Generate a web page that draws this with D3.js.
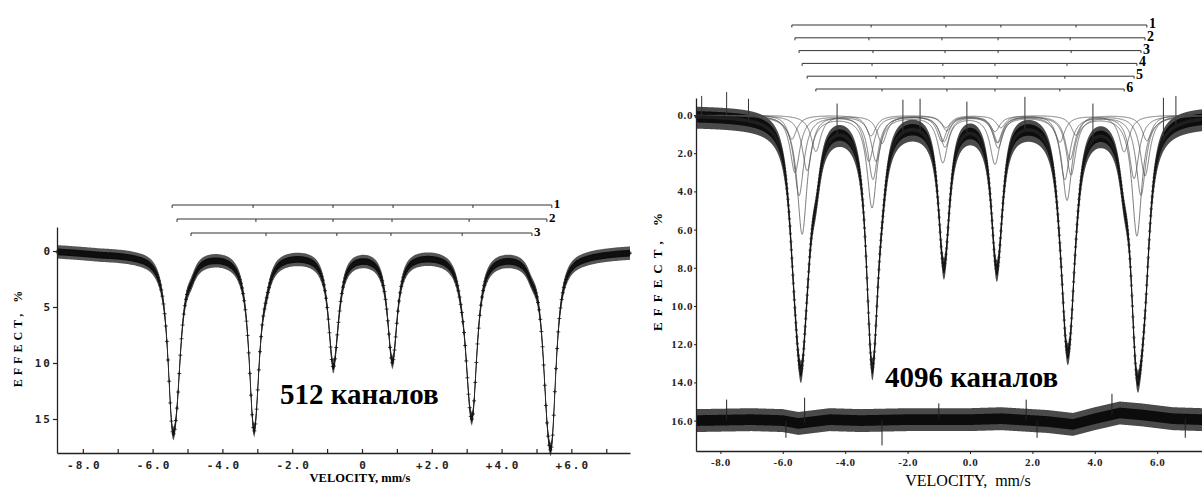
<!DOCTYPE html>
<html>
<head>
<meta charset="utf-8">
<script src="https://cdn.jsdelivr.net/npm/d3@7"></script>
<style>
  body { margin: 0; background: #fff; }
  svg { display: block; }
</style>
</head>
<body>
<svg width="1202" height="491"></svg>
<script>

// ---- left spectrum (512 channels), three sextets = stick diagrams 1..3
var leftSticks = [
    [-5.44, -3.12, -0.83, 0.89, 3.18, 5.44],
    [-5.30, -3.04, -0.83, 0.86, 3.07, 5.30],
    [-4.90, -2.75, -0.72, 0.83, 2.87, 4.87]
];
var leftDepths = [
    [11.7, 10.2, 5.5, 5.0, 10.0, 12.6],
    [7.0, 6.3, 3.5, 3.4, 6.0, 7.8],
    [0.8, 1.1, 1.5, 1.4, 1.0, 0.8]
];
var leftWidth = 0.16;          // half width, mm/s
var leftNoise = [0.3, 0.6];    // dense core / spikes, %
var leftBaseline = [[-8.74, 0.0], [-7.5, 0.22], [-6.4, 0.25], [-5.5, 0.1], [5.5, 0.1], [6.4, 0.2], [7.68, 0.05]];
var leftChannels = 512;
var leftXTicks = [-8, -7, -6, -5, -4, -3, -2, -1, 0, 1, 2, 3, 4, 5, 6, 7];
var leftYTicks = [0, 5, 10, 15];
var leftStickLabels = ["1", "2", "3"];

// ---- right spectrum (4096 channels), six sextets = stick diagrams 1..6
var rightSticks = [
    [-5.71, -3.17, -0.77, 0.99, 3.40, 5.67],
    [-5.61, -3.24, -0.90, 0.90, 3.21, 5.61],
    [-5.48, -3.11, -0.80, 0.90, 3.24, 5.48],
    [-5.38, -3.14, -0.87, 0.80, 3.11, 5.35],
    [-5.22, -3.01, -0.83, 0.87, 3.04, 5.26],
    [-4.94, -2.82, -0.74, 0.80, 2.88, 4.94]
];
var rightDepths = [
    [1.26, 1.08, 0.65, 0.65, 1.05, 1.34],
    [3.0, 2.4, 1.35, 1.4, 2.3, 3.17],
    [4.2, 3.33, 1.63, 1.67, 3.1, 4.18],
    [6.2, 4.8, 2.42, 2.5, 4.4, 6.3],
    [2.9, 2.4, 1.35, 1.4, 3.35, 3.3],
    [1.9, 1.47, 0.8, 0.84, 1.4, 1.92]
];
var rightWidth = 0.19;
var rightNoise = [0.3, 0.62];
var rightChannels = 4096;
var rightSpikes = [[-8.6, -1.0], [-7.8, -1.2], [-7.1, -0.85], [-4.26, -0.6], [-2.15, -0.8],
                   [-1.6, -0.85], [-0.1, -0.7], [1.76, -0.95], [3.94, -0.6], [6.2, -0.9], [6.6, -1.0]];
// residual (difference) curve drawn at 16 %
var rightResidual = [[-8.78, 16.0], [-7.0, 15.95], [-6.0, 16.0], [-5.5, 16.15], [-4.5, 15.95],
                     [-3.5, 16.0], [-2.0, 15.95], [0.0, 15.95], [1.0, 15.9], [2.5, 16.05],
                     [3.3, 16.2], [4.0, 15.9], [4.8, 15.6], [5.5, 15.7], [6.5, 15.9], [7.44, 15.95]];
var residualNoise = [0.28, 0.6];
var residualSpikes = [[-7.8, 14.9], [-5.9, 16.9], [-5.3, 14.8], [-2.82, 17.3], [-1.0, 15.1],
                      [1.8, 14.9], [2.15, 16.9], [4.55, 14.6], [6.9, 16.9]];
var rightXTicks = [-8, -6, -4, -2, 0, 2, 4, 6];
var rightYTicks = [0, 2, 4, 6, 8, 10, 12, 14, 16];
var rightStickLabels = ["1", "2", "3", "4", "5", "6"];

var serif = "'Liberation Serif', 'Times New Roman', serif";
var mono = "'DejaVu Sans Mono', monospace";

var svg = d3.select("svg");

// lorentzian line of one sextet
function lineShape(v, pos, depth, g) {
    var d = (v - pos) / g;
    return depth / (1 + d * d);
}
function sextet(v, sticks, depths, g, k) {
    var s = 0;
    for (var j = 0; j < 6; j++) s += lineShape(v, sticks[k][j], depths[k][j], g);
    return s;
}
function total(v, sticks, depths, g) {
    var s = 0;
    for (var k = 0; k < sticks.length; k++) s += sextet(v, sticks, depths, g, k);
    return s;
}

// ================= left panel =================
var x1 = d3.scaleLinear().domain([-8.74, 7.68]).range([57, 630]);
var y1 = d3.scaleLinear().domain([-2.143, 18.036]).range([227, 453]);
var base1 = d3.scaleLinear().domain(leftBaseline.map(d => d[0])).range(leftBaseline.map(d => d[1]));

var ch1 = d3.range(leftChannels).map(function (i) {
    var v = x1.domain()[0] + i * (x1.domain()[1] - x1.domain()[0]) / (leftChannels - 1);
    return { v: v, e: total(v, leftSticks, leftDepths, leftWidth) + base1(v) };
});

var g1 = svg.append("g");

g1.append("path")
    .datum(ch1)
    .attr("fill", "#555")
    .attr("d", d3.area().x(d => x1(d.v)).y0(d => y1(d.e - leftNoise[1])).y1(d => y1(d.e + leftNoise[1])));
g1.append("path")
    .datum(ch1)
    .attr("fill", "#0d0d0d")
    .attr("d", d3.area().x(d => x1(d.v)).y0(d => y1(d.e - leftNoise[0])).y1(d => y1(d.e + leftNoise[0])));
g1.append("path")
    .datum(ch1)
    .attr("fill", "none")
    .attr("stroke", "#222")
    .attr("stroke-width", 0.9)
    .attr("d", d3.line().x(d => x1(d.v)).y(d => y1(d.e)));
// "+" markers at every channel
g1.append("path")
    .attr("fill", "none")
    .attr("stroke", "#111")
    .attr("stroke-width", 0.8)
    .attr("d", ch1.map(function (d) {
        var px = x1(d.v), py = y1(d.e);
        return "M" + (px - 2) + "," + py + "h4M" + px + "," + (py - 2) + "v4";
    }).join(""));

// axes
var ax1 = g1.append("g")
    .attr("transform", "translate(0," + y1.range()[1] + ")")
    .call(d3.axisBottom(x1).tickValues(leftXTicks).tickSize(-4).tickSizeOuter(0)
        .tickFormat(function (v) {
            if (v % 2 !== 0) return "";
            return v === 0 ? "0" : (v > 0 ? "+" : "") + v.toFixed(1);
        }));
ax1.select(".domain").attr("stroke", "#222").attr("stroke-width", 1.3);
ax1.selectAll(".tick line").attr("stroke", "#222").attr("stroke-width", 1.2);
ax1.selectAll(".tick text")
    .attr("y", 8)
    .attr("dx", "1px")
    .style("font-family", mono).style("font-weight", "bold").style("font-size", "11px")
    .style("letter-spacing", "2px").attr("fill", "#222");

var ay1 = g1.append("g")
    .attr("transform", "translate(" + x1.range()[0] + ",0)")
    .call(d3.axisLeft(y1).tickValues(leftYTicks).tickSize(4).tickSizeOuter(0).tickPadding(1));
ay1.select(".domain").attr("stroke", "#222").attr("stroke-width", 1.3);
ay1.selectAll(".tick line").attr("stroke", "#222").attr("stroke-width", 1.2);
ay1.selectAll(".tick text")
    .style("font-family", mono).style("font-weight", "bold").style("font-size", "11px")
    .style("letter-spacing", "2px").attr("fill", "#222");

g1.append("text")
    .attr("x", 360).attr("y", 482)
    .attr("text-anchor", "middle")
    .style("font-family", serif).style("font-weight", "bold").style("font-size", "12.5px")
    .text("VELOCITY, mm/s");

g1.append("text")
    .attr("transform", "translate(22,337) rotate(-90)")
    .attr("text-anchor", "middle")
    .style("font-family", serif).style("font-weight", "bold").style("font-size", "12px")
    .style("letter-spacing", "4px")
    .text("EFFECT, %");

g1.append("text")
    .attr("x", 280).attr("y", 404)
    .style("font-family", serif).style("font-weight", "bold").style("font-size", "29px")
    .text("512 каналов");

// stick diagrams
var sticks1 = g1.selectAll(".stick")
    .data(leftSticks)
    .enter().append("g")
    .attr("class", "stick")
    .attr("transform", (d, i) => "translate(0," + (205 + i * 14) + ")");
sticks1.append("line")
    .attr("x1", d => x1(d[0])).attr("x2", d => x1(d[5]))
    .attr("stroke", "#333").attr("stroke-width", 1);
sticks1.selectAll(".t")
    .data(d => d)
    .enter().append("line")
    .attr("class", "t")
    .attr("x1", d => x1(d)).attr("x2", d => x1(d))
    .attr("y1", 0).attr("y2", 3)
    .attr("stroke", "#333").attr("stroke-width", 1);
sticks1.append("text")
    .attr("x", d => x1(d[5]) + 2).attr("y", 3)
    .style("font-family", serif).style("font-weight", "bold").style("font-size", "13px")
    .text((d, i) => leftStickLabels[i]);

// ================= right panel =================
var x2 = d3.scaleLinear().domain([-8.782, 7.436]).range([696, 1202]);
var y2 = d3.scaleLinear().domain([-0.890, 17.592]).range([98, 451]);

var ch2 = d3.range(rightChannels).map(function (i) {
    var v = x2.domain()[0] + i * (x2.domain()[1] - x2.domain()[0]) / (rightChannels - 1);
    return { v: v, e: total(v, rightSticks, rightDepths, rightWidth) };
});

var g2 = svg.append("g");

// experimental points as a noise band
g2.append("path")
    .datum(ch2)
    .attr("fill", "#4a4a4a")
    .attr("d", d3.area().x(d => x2(d.v)).y0(d => y2(d.e - rightNoise[1] * 0.85)).y1(d => y2(d.e + rightNoise[1])));
g2.append("path")
    .datum(ch2)
    .attr("fill", "#0d0d0d")
    .attr("d", d3.area().x(d => x2(d.v)).y0(d => y2(d.e - rightNoise[0])).y1(d => y2(d.e + rightNoise[0])));
g2.selectAll(".spike")
    .data(rightSpikes)
    .enter().append("line")
    .attr("class", "spike")
    .attr("x1", d => x2(d[0])).attr("x2", d => x2(d[0]))
    .attr("y1", d => y2(total(d[0], rightSticks, rightDepths, rightWidth)))
    .attr("y2", d => y2(d[1]))
    .attr("stroke", "#333").attr("stroke-width", 1);

// sub-spectra
g2.selectAll(".sub")
    .data(rightSticks)
    .enter().append("path")
    .attr("class", "sub")
    .attr("fill", "none")
    .attr("stroke", "#555")
    .attr("stroke-width", 0.8)
    .attr("d", function (s, k) {
        return d3.line().x(d => x2(d.v)).y(d => y2(sextet(d.v, rightSticks, rightDepths, rightWidth, k)))(ch2);
    });

// total fit and points
g2.append("path")
    .datum(ch2)
    .attr("fill", "none")
    .attr("stroke", "#111")
    .attr("stroke-width", 0.9)
    .attr("d", d3.line().x(d => x2(d.v)).y(d => y2(d.e)));
g2.append("g")
    .selectAll("circle")
    .data(ch2.filter((d, i) => i % 4 === 0))
    .enter().append("circle")
    .attr("cx", d => x2(d.v)).attr("cy", d => y2(d.e))
    .attr("r", 1.2)
    .attr("fill", "none").attr("stroke", "#222").attr("stroke-width", 0.6);

// residual
var res = d3.scaleLinear().domain(rightResidual.map(d => d[0])).range(rightResidual.map(d => d[1]));
g2.append("path")
    .datum(ch2)
    .attr("fill", "#4a4a4a")
    .attr("d", d3.area().x(d => x2(d.v)).y0(d => y2(res(d.v) - residualNoise[1])).y1(d => y2(res(d.v) + residualNoise[1])));
g2.append("path")
    .datum(ch2)
    .attr("fill", "#0c0c0c")
    .attr("d", d3.area().x(d => x2(d.v)).y0(d => y2(res(d.v) - residualNoise[0])).y1(d => y2(res(d.v) + residualNoise[0])));
g2.selectAll(".rspike")
    .data(residualSpikes)
    .enter().append("line")
    .attr("class", "rspike")
    .attr("x1", d => x2(d[0])).attr("x2", d => x2(d[0]))
    .attr("y1", d => y2(res(d[0]))).attr("y2", d => y2(d[1]))
    .attr("stroke", "#222").attr("stroke-width", 1);

// axes
var ax2 = g2.append("g")
    .attr("transform", "translate(0," + y2.range()[1] + ")")
    .call(d3.axisBottom(x2).tickValues(rightXTicks).tickSize(3).tickSizeOuter(0).tickPadding(4)
        .tickFormat(v => v.toFixed(1)));
ax2.select(".domain").attr("stroke", "#222").attr("stroke-width", 1.3);
ax2.selectAll(".tick line").attr("stroke", "#222");
ax2.selectAll(".tick text")
    .style("font-family", serif).style("font-weight", "bold").style("font-size", "11px")
    .style("letter-spacing", "0.6px").attr("fill", "#222");

var ay2 = g2.append("g")
    .attr("transform", "translate(" + x2.range()[0] + ",0)")
    .call(d3.axisLeft(y2).tickValues(rightYTicks).tickSize(2).tickSizeOuter(0).tickPadding(1)
        .tickFormat(v => v.toFixed(1)));
ay2.select(".domain").attr("stroke", "#222").attr("stroke-width", 1.3);
ay2.selectAll(".tick line").attr("stroke", "#222");
ay2.selectAll(".tick text")
    .style("font-family", serif).style("font-weight", "bold").style("font-size", "11px")
    .style("letter-spacing", "0.6px").attr("fill", "#222");

g2.append("text")
    .attr("x", 968).attr("y", 486)
    .attr("text-anchor", "middle")
    .style("font-family", serif).style("font-size", "16px")
    .style("white-space", "pre")
    .text("VELOCITY,  mm/s");

g2.append("text")
    .attr("transform", "translate(662,269) rotate(-90)")
    .attr("text-anchor", "middle")
    .style("font-family", serif).style("font-weight", "bold").style("font-size", "13px")
    .style("letter-spacing", "6px")
    .text("EFFECT, %");

g2.append("text")
    .attr("x", 885).attr("y", 387)
    .style("font-family", serif).style("font-weight", "bold").style("font-size", "29px")
    .text("4096 каналов");

var sticks2 = g2.selectAll(".stick")
    .data(rightSticks)
    .enter().append("g")
    .attr("class", "stick")
    .attr("transform", (d, i) => "translate(0," + (25 + i * 12.8) + ")");
sticks2.append("line")
    .attr("x1", d => x2(d[0])).attr("x2", d => x2(d[5]))
    .attr("stroke", "#333").attr("stroke-width", 1);
sticks2.selectAll(".t")
    .data(d => d)
    .enter().append("line")
    .attr("class", "t")
    .attr("x1", d => x2(d)).attr("x2", d => x2(d))
    .attr("y1", 0).attr("y2", 2.5)
    .attr("stroke", "#333").attr("stroke-width", 1);
sticks2.append("text")
    .attr("x", d => x2(d[5]) + 2).attr("y", 3)
    .style("font-family", serif).style("font-weight", "bold").style("font-size", "14px")
    .text((d, i) => rightStickLabels[i]);

</script>
</body>
</html>
